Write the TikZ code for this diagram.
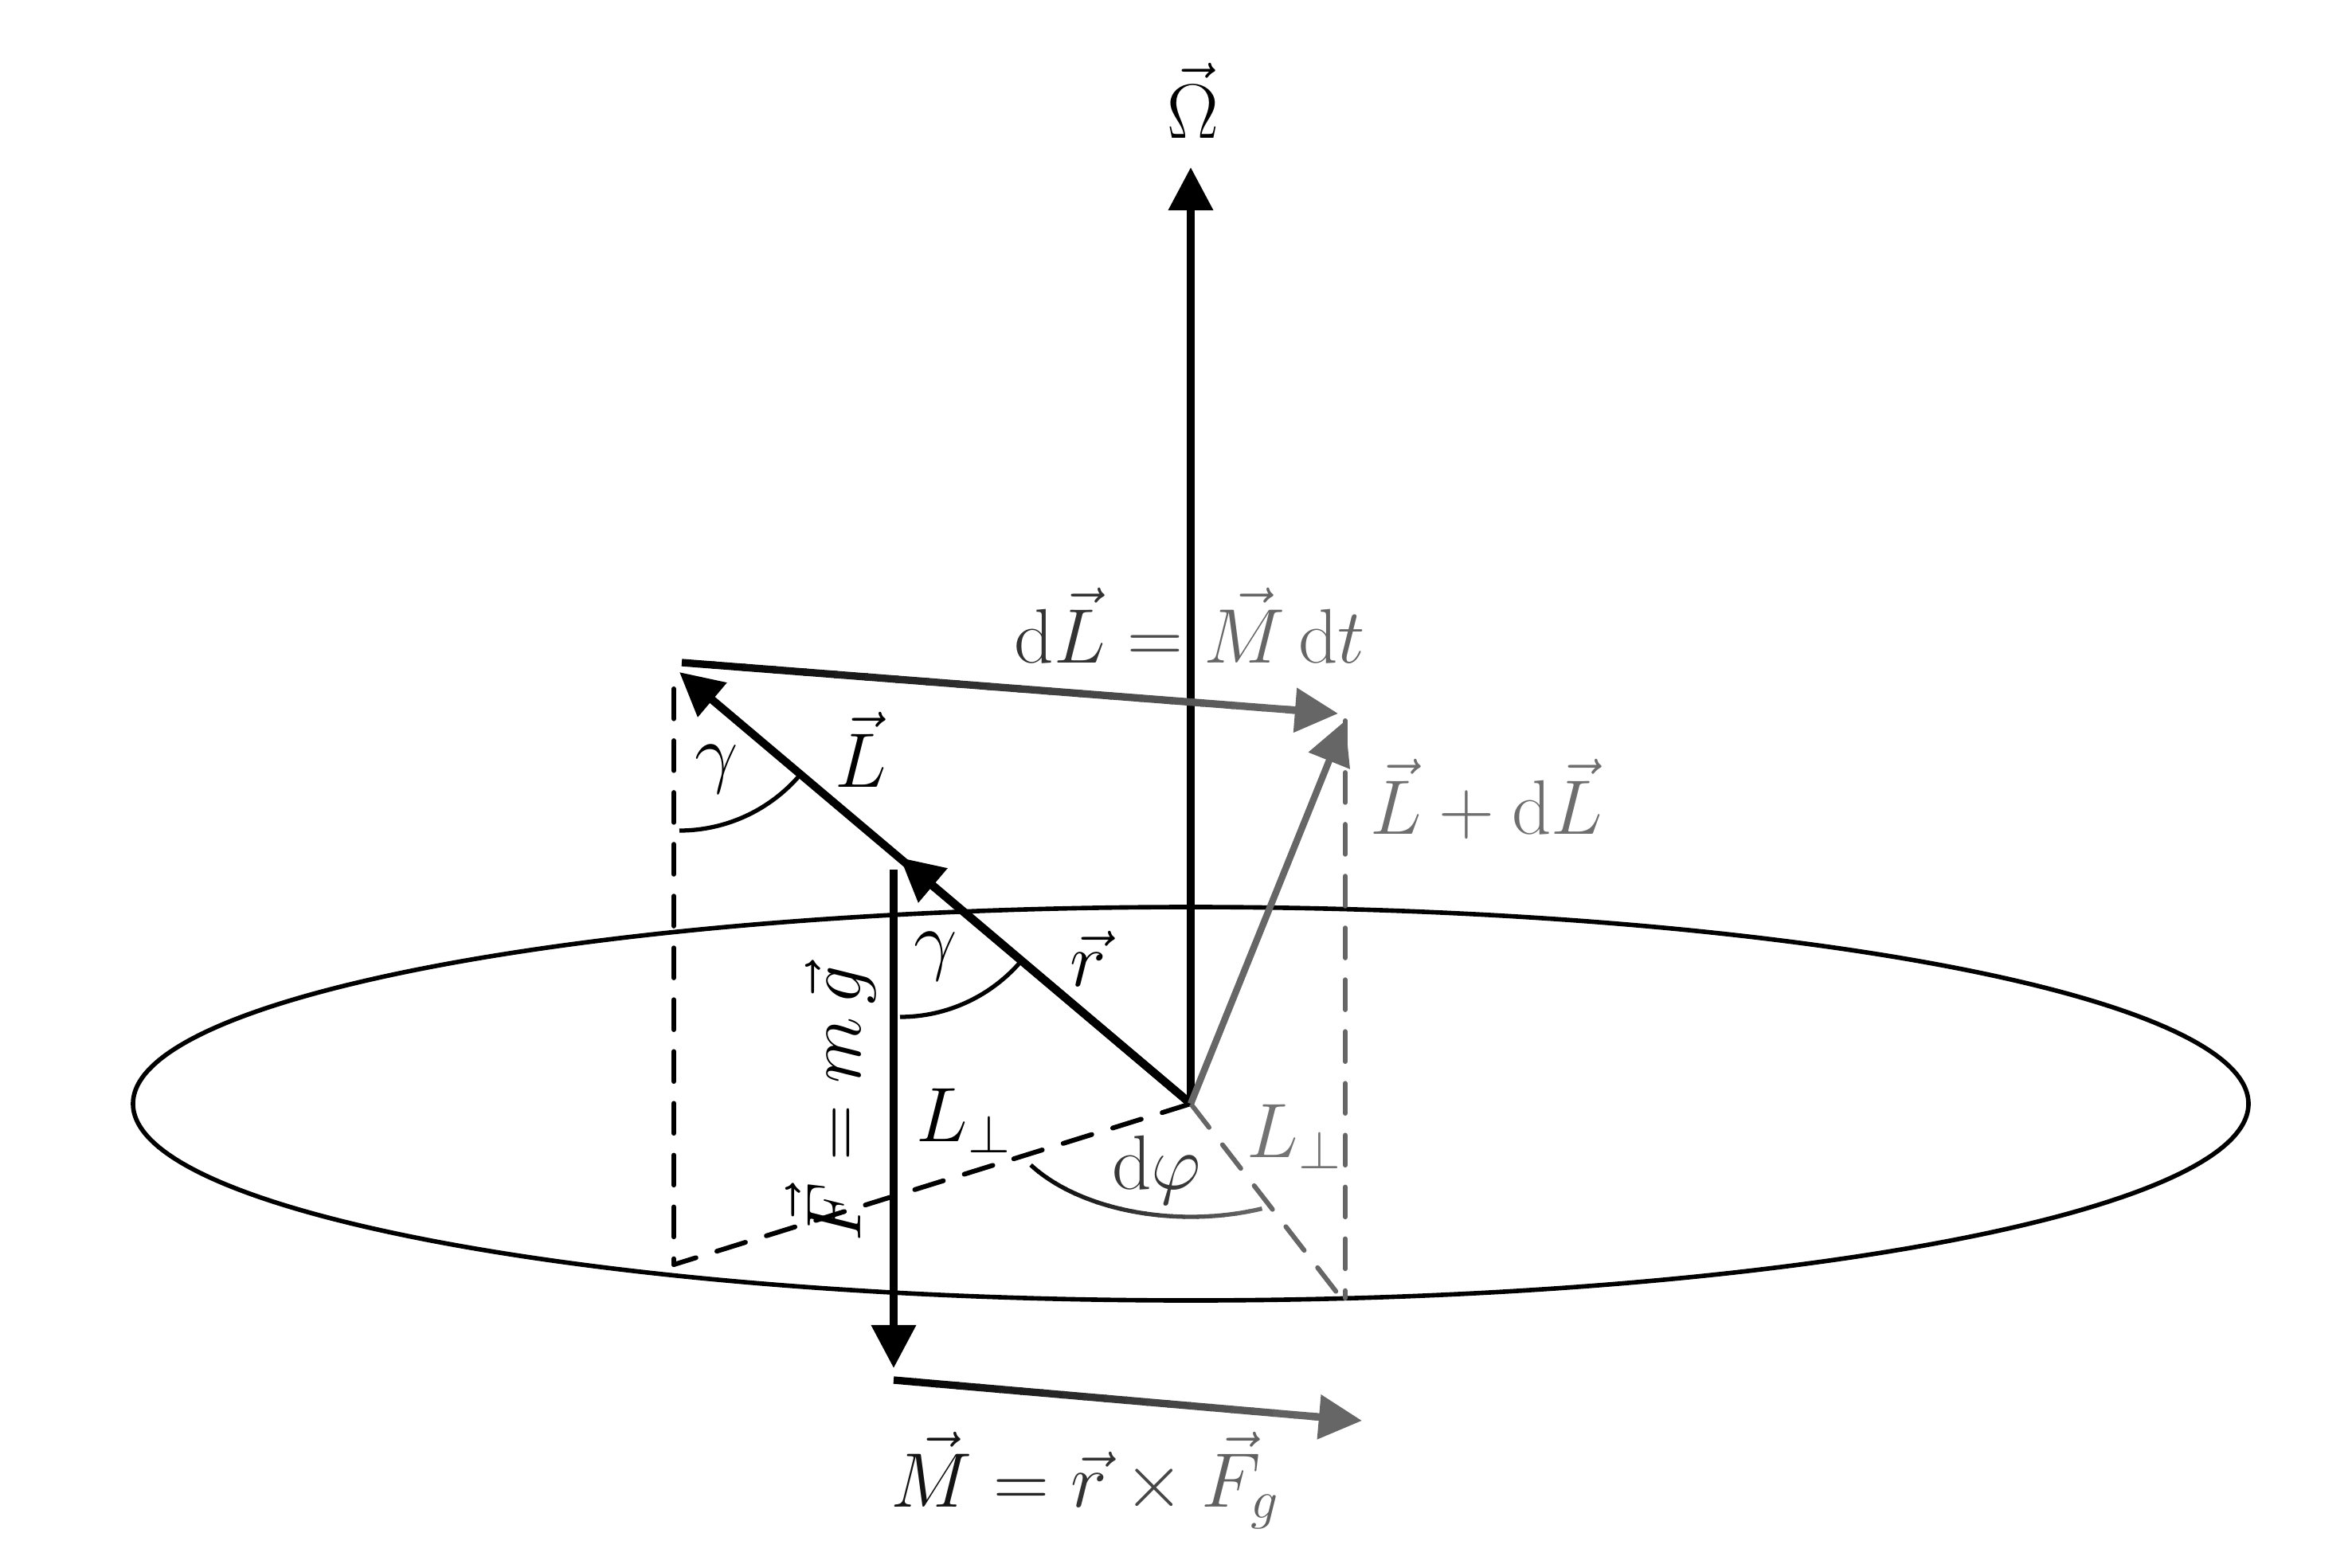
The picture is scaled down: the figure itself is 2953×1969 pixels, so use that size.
\RequirePackage{fix-cm}
\documentclass[tikz,border=0pt]{standalone}
\usetikzlibrary{arrows.meta,calc}
\tikzset{
  vecarrow/.style={line width=2.85pt, -{Triangle[length=15.4pt,width=15.4pt]}},
  dashline/.style={line width=1.7pt, dash pattern=on 10.7pt off 7.8pt, line cap=round},
  lbl/.style={inner sep=0pt, font=\fontsize{27.6}{33}\selectfont},
  anglearc/.style={line width=1.5pt},
}
\begin{document}
\begin{tikzpicture}[x=0.01cm,y=0.01cm]
\useasboundingbox (0,0) rectangle (2953,-1969);
% points
\coordinate (O) at (1495,-1386);
\coordinate (Wtip) at (1495,-210);
\coordinate (Ltip) at (853,-844);
\coordinate (rtip) at (1130,-1077);
\coordinate (Ftop) at (1122,-1092);
\coordinate (Ftip) at (1122,-1718);
\coordinate (Mstart) at (1122,-1733);
\coordinate (Mtip) at (1710,-1784);
\coordinate (dLstart) at (856,-832);
\coordinate (dLtip) at (1680,-896);
\coordinate (LdLtip) at (1689,-905);
\coordinate (Ltop) at (846,-865);
\coordinate (Lfoot) at (846,-1588);
\coordinate (LdLfoot) at (1689,-1630);
\coordinate (LdLperp) at (1683,-1629);
% disc
\draw[line width=1.6pt] (O) ellipse [x radius=1328, y radius=247];
% dashed helper lines
\draw[dashline] (Ltop) -- (Lfoot);
\draw[dashline] (O) -- (Lfoot);
\draw[dashline, black!60] (LdLtip) -- (LdLfoot);
\draw[dashline, black!60] (O) -- (LdLperp);
% angle arcs
\draw[anglearc] ($(Ltip)+(0,-199)$) arc[start angle=-90, end angle=-40.2, radius=199];
\draw[anglearc] ($(rtip)+(0,-200)$) arc[start angle=-90, end angle=-40.2, radius=200];
\foreach \i in {0,...,19}{
  \pgfmathsetmacro\aa{212.8+78.8*\i/20}
  \pgfmathsetmacro\bb{212.8+78.8*(\i+1.1)/20}
  \pgfmathsetmacro\cc{100-40*\i/19}
  \draw[anglearc, black!\cc] ($(O)+({239*cos(\aa)},{142*sin(\aa)})$) arc[start angle=\aa, end angle=\bb, x radius=239, y radius=142];
}
% vectors
\draw[vecarrow] (O) -- (Wtip);
\draw[vecarrow] (O) -- (Ltip);
\draw[vecarrow] (O) -- (rtip);
\draw[vecarrow] (Ftop) -- (Ftip);
\draw[vecarrow, black!60, line width=2.4pt] (O) -- (LdLtip);
% gradient vectors dL and M
\foreach \i in {0,...,19}{
  \pgfmathsetmacro\fa{0.93*\i/20}
  \pgfmathsetmacro\fb{0.93*(\i+1.1)/20}
  \pgfmathsetmacro\cc{100-40*\i/19}
  \draw[line width=2.65pt, black!\cc] ($(dLstart)!\fa!(dLtip)$) -- ($(dLstart)!\fb!(dLtip)$);
}
\draw[vecarrow, line width=2.65pt, black!60] ($(dLstart)!0.92!(dLtip)$) -- (dLtip);
\foreach \i in {0,...,19}{
  \pgfmathsetmacro\fa{0.9*\i/20}
  \pgfmathsetmacro\fb{0.9*(\i+1.1)/20}
  \pgfmathsetmacro\cc{100-40*\i/19}
  \draw[line width=2.65pt, black!\cc] ($(Mstart)!\fa!(Mtip)$) -- ($(Mstart)!\fb!(Mtip)$);
}
\draw[vecarrow, line width=2.65pt, black!60] ($(Mstart)!0.89!(Mtip)$) -- (Mtip);
% labels
\node[lbl, anchor=base] (lOmega) at (1498,-173) {$\vec\Omega$};
\node[lbl, anchor=base] (ldL) at (1494,-832) {$\textcolor{black!80}{\mathrm{d}\vec L} \mathrel{\textcolor{black!70}{=}} \textcolor{black!60}{\vec M\,\mathrm{d}t}$};
\node[lbl, anchor=base west, text=black!57] (lLdL) at (1720,-1047) {$\vec L + \mathrm{d}\vec L$};
\node[lbl, anchor=base] (lL) at (1081,-988) {$\vec L$};
\node[lbl, anchor=base] (lg1) at (900,-977) {$\gamma$};
\node[lbl, anchor=base] (lg2) at (1175,-1212) {$\gamma$};
\node[lbl, anchor=base] (lr) at (1366,-1238) {$\vec r$};
\node[lbl, anchor=base, text=black!78] (ldphi) at (1452,-1493) {$\mathrm{d}\varphi$};
\node[lbl, anchor=base west] (lLp1) at (1150,-1433) {$L_\perp$};
\node[lbl, anchor=base west, text=black!55] (lLp2) at (1565,-1453) {$L_\perp$};
\node[lbl, rotate=90, anchor=base] (lF) at (1080,-1386) {$\vec F = m\,\vec g$};
\node[lbl, anchor=base west] (lM) at (1118,-1892) {$\textcolor{black!92}{\vec M} \mathrel{\textcolor{black!85}{=}} \textcolor{black!80}{\vec r} \mathbin{\textcolor{black!72}{\times}} \textcolor{black!62}{\vec F_g}$};
\end{tikzpicture}
\end{document}
